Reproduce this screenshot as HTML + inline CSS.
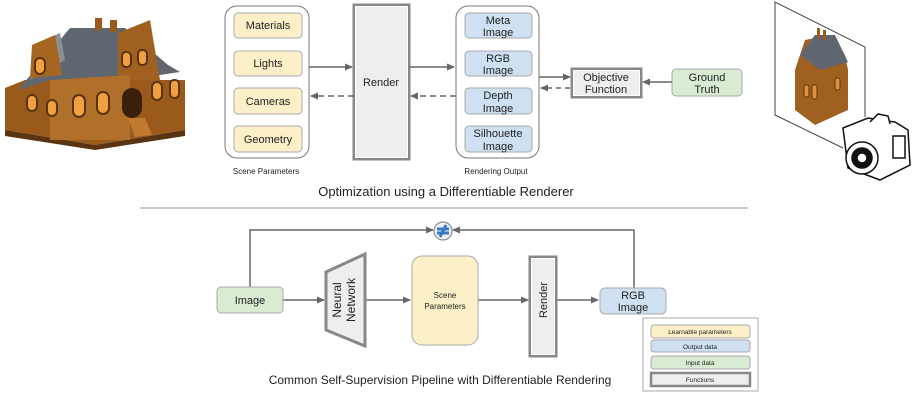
<!DOCTYPE html>
<html><head><meta charset="utf-8"><style>
html,body{margin:0;padding:0;background:#fff;}
svg{display:block;font-family:"Liberation Sans",Arial,sans-serif;}
</style></head><body>
<svg width="918" height="401" viewBox="0 0 918 401" xmlns="http://www.w3.org/2000/svg">
<defs>
<marker id="ah" markerWidth="8" markerHeight="8" refX="7" refY="4" orient="auto" markerUnits="userSpaceOnUse"><path d="M0,0.5 L8,4 L0,7.5 Z" fill="#666"/></marker>
</defs>

<!-- Left house -->
<g>
<polygon points="5,88 25,80 185,80 185,130 95,145 5,130" fill="#9a5a1c"/>
<polygon points="5,130 95,145 185,130 185,136 95,150 5,136" fill="#5a3410"/>
<polygon points="70,28 125,28 168,65 180,72 125,80 50,80 18,90" fill="#5f6670"/>
<polygon points="40,42 60,33 65,60 30,80" fill="#8a8f96"/>
<polygon points="118,33 150,20 160,80 118,80" fill="#a0601f"/>
<polygon points="32,45 55,35 62,75 30,78" fill="#a66520"/>
<polygon points="50,80 130,75 130,140 50,140" fill="#b0702a"/>
<rect x="95" y="18" width="7" height="12" fill="#9a5a1c"/>
<rect x="110" y="20" width="7" height="12" fill="#9a5a1c"/>
<g fill="#f0a040" stroke="#5a3410" stroke-width="2">
<rect x="35" y="58" width="10" height="16" rx="5"/>
<rect x="122" y="52" width="9" height="15" rx="4"/>
<rect x="138" y="50" width="9" height="15" rx="4"/>
<rect x="27" y="95" width="10" height="16" rx="5"/>
<rect x="47" y="100" width="10" height="16" rx="5"/>
<rect x="73" y="95" width="12" height="22" rx="6"/>
<rect x="97" y="92" width="12" height="22" rx="6"/>
<rect x="152" y="82" width="10" height="18" rx="5"/>
<rect x="170" y="80" width="9" height="18" rx="4"/>
</g>
<rect x="122" y="88" width="20" height="30" rx="10" fill="#3a200a"/>
<polygon points="128,118 145,118 152,135 135,137" fill="#c27a30"/>
</g>

<!-- Right image frame with house & camera -->
<g>
<polyline points="843,148 775,115 775,2 865,47 865,117" fill="none" stroke="#444" stroke-width="1"/>
<polygon points="795,70 805,40 830,35 845,55 848,70 848,110 815,125 795,110" fill="#a0601f"/>
<polygon points="800,55 815,35 835,35 848,62 820,70" fill="#5f6670"/>
<rect x="817" y="28" width="3" height="10" fill="#9a5a1c"/><rect x="823" y="30" width="3" height="10" fill="#9a5a1c"/>
<g fill="#e09040" stroke="#5a3410" stroke-width="1">
<rect x="804" y="85" width="5" height="12" rx="2"/><rect x="812" y="85" width="5" height="14" rx="2"/><rect x="835" y="78" width="5" height="12" rx="2"/>
</g>
<g fill="#fff" stroke="#111" stroke-width="1.5">
<path d="M843,128 L868,118 L880,120 L895,122 L908,130 L910,165 L880,180 L848,168 Z"/>
<circle cx="862" cy="158" r="16"/>
<circle cx="862" cy="158" r="10" fill="#111"/>
<circle cx="862" cy="158" r="5" fill="#fff"/>
<rect x="893" y="136" width="12" height="22"/>
<path d="M870,122 L878,114 L888,116 L890,124" />
</g>
</g>

<!-- Top diagram -->
<g stroke-width="1">
<rect x="225" y="6" width="84" height="152" rx="12" fill="#fff" stroke="#777"/>
<g fill="#fdf0c8" stroke="#aaa">
<rect x="234" y="13" width="68" height="25" rx="4"/>
<rect x="234" y="51" width="68" height="25" rx="4"/>
<rect x="234" y="88" width="68" height="26" rx="4"/>
<rect x="234" y="126" width="68" height="26" rx="4"/>
</g>
<rect x="354" y="5" width="55" height="154" fill="#eee" stroke="#888" stroke-width="3"/>
<rect x="355.5" y="6.5" width="52" height="151" fill="none" stroke="#fff" stroke-width="1"/>
<rect x="456" y="6" width="83" height="152" rx="12" fill="#fff" stroke="#777"/>
<g fill="#cfe0f3" stroke="#aaa">
<rect x="465" y="13" width="67" height="25" rx="4"/>
<rect x="465" y="51" width="67" height="25" rx="4"/>
<rect x="465" y="88" width="67" height="26" rx="4"/>
<rect x="465" y="126" width="67" height="26" rx="4"/>
</g>
<rect x="572" y="69" width="69" height="28" fill="#eee" stroke="#888" stroke-width="3"/>
<rect x="573.5" y="70.5" width="66" height="25" fill="none" stroke="#fff" stroke-width="1"/>
<rect x="672" y="69" width="70" height="27" rx="4" fill="#d9ebd3" stroke="#aaa"/>
</g>
<g stroke="#666" stroke-width="1.5" fill="none">
<line x1="309" y1="67" x2="352" y2="67" marker-end="url(#ah)"/>
<line x1="409" y1="67" x2="454" y2="67" marker-end="url(#ah)"/>
<line x1="354" y1="96" x2="311" y2="96" stroke-dasharray="6,4" marker-end="url(#ah)"/>
<line x1="456" y1="96" x2="411" y2="96" stroke-dasharray="6,4" marker-end="url(#ah)"/>
<line x1="539" y1="77" x2="570" y2="77" marker-end="url(#ah)"/>
<line x1="570" y1="88" x2="541" y2="88" stroke-dasharray="5,4" marker-end="url(#ah)"/>
<line x1="672" y1="82" x2="643" y2="82" marker-end="url(#ah)"/>
</g>
<g font-size="11" fill="#222" text-anchor="middle">
<text x="268" y="29">Materials</text>
<text x="268" y="67">Lights</text>
<text x="268" y="105">Cameras</text>
<text x="268" y="143">Geometry</text>
<text x="381" y="86">Render</text>
<text x="498" y="24">Meta</text><text x="498" y="36">Image</text>
<text x="498" y="62">RGB</text><text x="498" y="74">Image</text>
<text x="498" y="99">Depth</text><text x="498" y="112">Image</text>
<text x="498" y="137">Silhouette</text><text x="498" y="150">Image</text>
<text x="606" y="81">Objective</text><text x="606" y="93">Function</text>
<text x="707" y="81">Ground</text><text x="707" y="93">Truth</text>
</g>
<g font-size="8" fill="#222" text-anchor="middle">
<text x="266" y="174">Scene Parameters</text>
<text x="496" y="174">Rendering Output</text>
</g>
<text x="446" y="196" font-size="13" fill="#222" text-anchor="middle">Optimization using a Differentiable Renderer</text>
<line x1="140" y1="208" x2="748" y2="208" stroke="#999" stroke-width="1"/>

<!-- Bottom diagram -->
<g stroke="#666" stroke-width="1.5" fill="none">
<polyline points="250,287 250,230 433,230" marker-end="url(#ah)"/>
<polyline points="634,288 634,230 453,230" marker-end="url(#ah)"/>
<line x1="283" y1="300" x2="324" y2="300" marker-end="url(#ah)"/>
<line x1="365" y1="300" x2="410" y2="300" marker-end="url(#ah)"/>
<line x1="478" y1="300" x2="528" y2="300" marker-end="url(#ah)"/>
<line x1="556" y1="300" x2="598" y2="300" marker-end="url(#ah)"/>
</g>
<circle cx="443" cy="231" r="9" fill="#eef2f7" stroke="#888" stroke-width="1.2"/>
<path d="M437,229 h12 M437,233 h12 M446,225 l-6,12" stroke="#3a78c0" stroke-width="3" fill="none"/>
<rect x="217" y="287" width="66" height="26" rx="4" fill="#d9ebd3" stroke="#aaa"/>
<polygon points="326,272 365,254 365,346 326,330" fill="#eee" stroke="#888" stroke-width="3"/>
<rect x="412" y="256" width="66" height="89" rx="10" fill="#fdf0c8" stroke="#aaa"/>
<rect x="530" y="257" width="26" height="99" fill="#eee" stroke="#888" stroke-width="3"/>
<rect x="531.5" y="258.5" width="23" height="96" fill="none" stroke="#fff" stroke-width="1"/>
<rect x="600" y="288" width="66" height="26" rx="5" fill="#cfe0f3" stroke="#aaa"/>
<g font-size="11" fill="#222" text-anchor="middle">
<text x="250" y="304">Image</text>
<text x="633" y="299">RGB</text><text x="633" y="311">Image</text>
<text transform="translate(345,300) rotate(-90)" font-size="12" x="0" y="-4">Neural</text>
<text transform="translate(345,300) rotate(-90)" font-size="12" x="0" y="10">Network</text>
<text transform="translate(543,300) rotate(-90)" x="0" y="4">Render</text>
</g>
<g font-size="8" fill="#222" text-anchor="middle">
<text x="445" y="298">Scene</text><text x="445" y="309">Parameters</text>
</g>
<text x="440" y="384" font-size="12" fill="#222" text-anchor="middle">Common Self-Supervision Pipeline with Differentiable Rendering</text>

<!-- Legend -->
<rect x="643" y="318" width="115" height="73" fill="#fff" stroke="#aaa"/>
<rect x="651" y="325" width="99" height="13" rx="3" fill="#fdf0c8" stroke="#aaa"/>
<rect x="651" y="340" width="99" height="12" rx="3" fill="#cfe0f3" stroke="#aaa"/>
<rect x="651" y="356" width="99" height="13" rx="3" fill="#d9ebd3" stroke="#aaa"/>
<rect x="651" y="373" width="99" height="13" fill="#eee" stroke="#888" stroke-width="2.5"/>
<g font-size="6.5" fill="#222" text-anchor="middle">
<text x="700" y="334">Learnable parameters</text>
<text x="700" y="349">Output data</text>
<text x="700" y="365">Input data</text>
<text x="700" y="382">Functions</text>
</g>
</svg>
</body></html>
